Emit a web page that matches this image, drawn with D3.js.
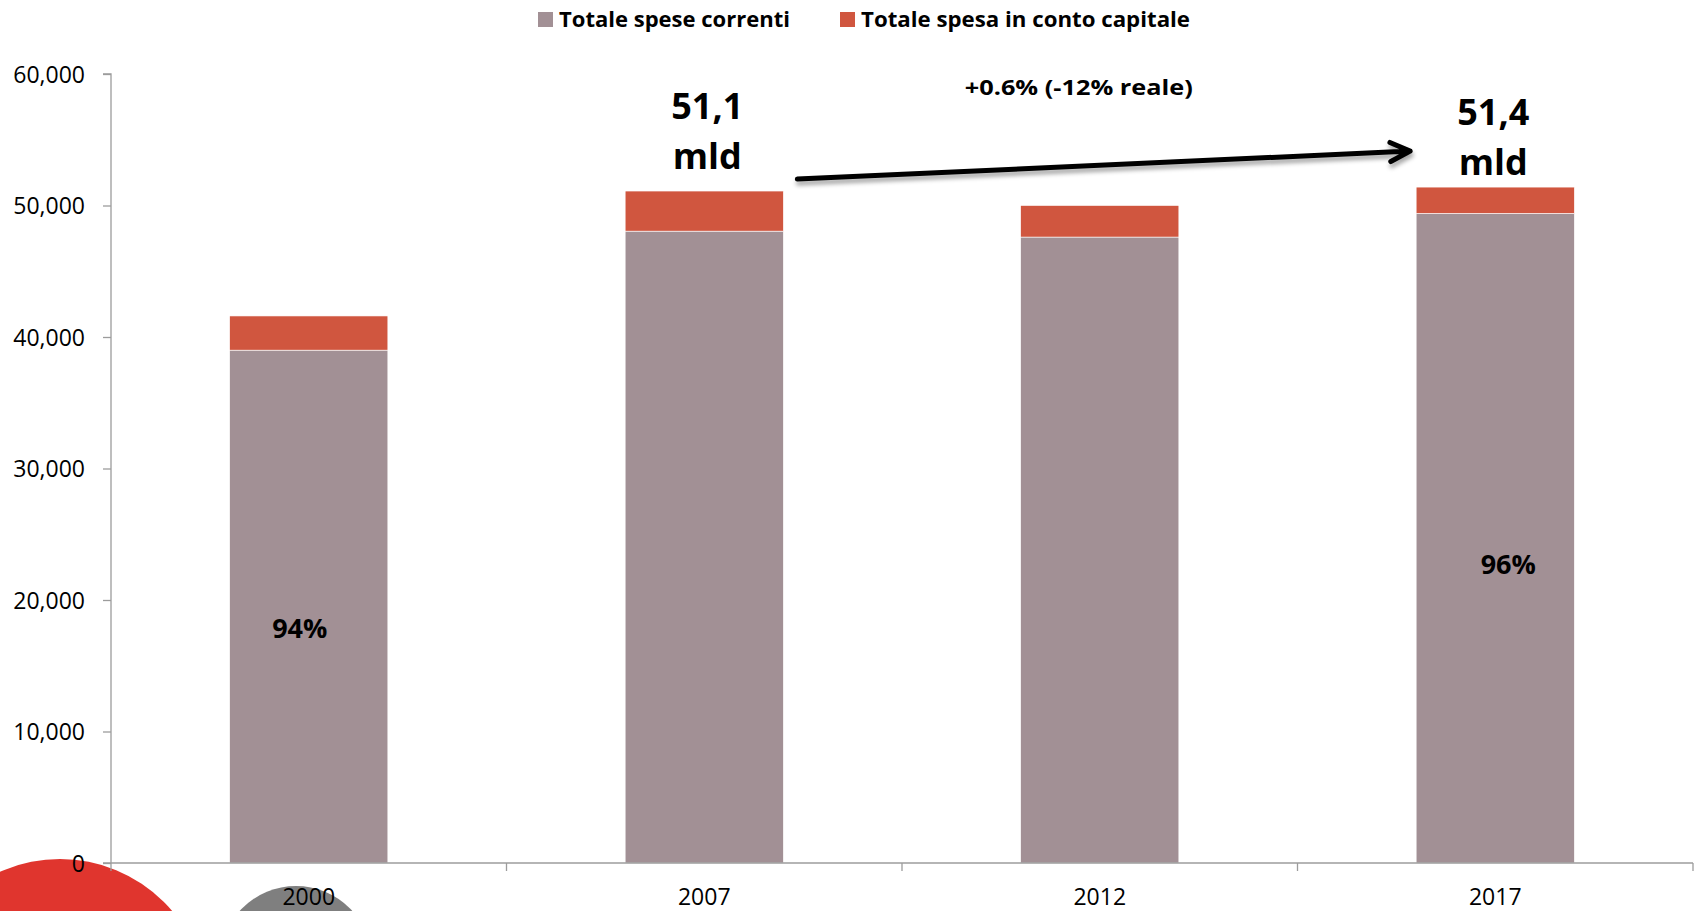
<!DOCTYPE html>
<html>
<head>
<meta charset="utf-8">
<script src="https://cdn.jsdelivr.net/npm/d3@7"></script>
<style>
  html, body { margin: 0; padding: 0; background: #ffffff; }
  svg { display: block; }
  text { font-family: "Open Sans", "Noto Sans", "DejaVu Sans", sans-serif; fill: #000; }
</style>
</head>
<body>
<svg id="chart" width="1698" height="911"></svg>
<script>
// ---- data ----
const categories = ["2000", "2007", "2012", "2017"];
const speseCorrenti = [39000, 48050, 47600, 49400];
const spesaCapitale = [2600, 3050, 2400, 2000];
const seriesNames = ["Totale spese correnti", "Totale spesa in conto capitale"];
const seriesColors = ["#a29095", "#d0563f"];
const yTicks = [0, 10000, 20000, 30000, 40000, 50000, 60000];
const totalLabelCats = ["2007", "2017"];
const totalLabelText = [["51,1", "mld"], ["51,4", "mld"]];
const shareLabelCats = ["2000", "2017"];
const shareLabelText = ["94%", "96%"];
const shareLabelValues = [17100, 22000];
const growthText = "+0.6% (-12% reale)";

(function () {
// ---- layout ----
const svg = d3.select("#chart");
const pL = 111, pR = 1693, pT = 74, pB = 863;

const x = d3.scaleBand().domain(categories).range([pL, pR]).paddingInner(0.6).paddingOuter(0.3);
const y = d3.scaleLinear().domain([0, 60000]).range([pB, pT]);

const defs = svg.append("defs");
const f = defs.append("filter").attr("id", "shadow").attr("x", "-10%").attr("y", "-200%").attr("width", "120%").attr("height", "500%");
f.append("feDropShadow").attr("dx", 1).attr("dy", 4).attr("stdDeviation", 2.2).attr("flood-color", "#000").attr("flood-opacity", 0.35);

// decorative circles (slide background)
svg.append("circle").attr("cx", 60).attr("cy", 1006).attr("r", 147).attr("fill", "#e0352e");
svg.append("circle").attr("cx", 296).attr("cy", 962).attr("r", 76).attr("fill", "#7f7f7f");

// stacked data
const rows = categories.map((c, i) => ({ cat: c, a: speseCorrenti[i], b: spesaCapitale[i] }));
const stack = d3.stack().keys(["a", "b"])(rows);

const g = svg.append("g");
g.selectAll("g.series").data(stack).join("g")
  .attr("fill", (d, i) => seriesColors[i])
  .selectAll("rect").data(d => d).join("rect")
  .attr("x", d => x(d.data.cat))
  .attr("width", x.bandwidth())
  .attr("y", d => y(d[1]))
  .attr("height", d => y(d[0]) - y(d[1]))
  .attr("stroke", "#ffffff").attr("stroke-width", 0.6);

// axes
const axisColor = "#9c9c9c";
const yAxis = d3.axisLeft(y).tickValues(yTicks).tickSize(8).tickPadding(18).tickFormat(d3.format(","));
const ya = svg.append("g").attr("transform", `translate(${pL},0)`).call(yAxis);
ya.select(".domain").attr("stroke", axisColor).attr("stroke-width", 1.3).attr("d", `M-8,${pT}H0V${pB}`);
ya.selectAll(".tick line").attr("stroke", axisColor).attr("stroke-width", 1.3);
ya.selectAll(".tick text").attr("font-size", 23).attr("fill", "#000").attr("dy", "0.35em")
  .style("font-family", "'Open Sans', sans-serif");

// x axis line
const step = x.step();
const boundaries = d3.range(categories.length + 1).map(i => pL + i * step);
svg.append("line").attr("x1", pL - 8).attr("x2", pR).attr("y1", pB).attr("y2", pB)
  .attr("stroke", axisColor).attr("stroke-width", 1.3);
svg.selectAll("line.xt").data(boundaries).join("line").attr("class", "xt")
  .attr("x1", d => d).attr("x2", d => d).attr("y1", pB).attr("y2", pB + 8)
  .attr("stroke", axisColor).attr("stroke-width", 1.3);
svg.selectAll("text.xl").data(categories).join("text").attr("class", "xl")
  .attr("x", d => x(d) + x.bandwidth() / 2).attr("y", pB + 42)
  .attr("text-anchor", "middle").attr("font-size", 23).text(d => d);

// share labels
svg.selectAll("text.share").data(shareLabelCats).join("text").attr("class", "share")
  .attr("x", (d, i) => x(d) + x.bandwidth() / 2 + (i === 0 ? -9 : 13))
  .attr("y", (d, i) => y(shareLabelValues[i]))
  .attr("text-anchor", "middle").attr("font-size", 27).attr("font-weight", 700)
  .text((d, i) => shareLabelText[i]);

// total labels
const total = c => { const i = categories.indexOf(c); return speseCorrenti[i] + spesaCapitale[i]; };
const labelDx = [3, -2], labelDy = [-72, -62];
totalLabelCats.forEach((c, i) => {
  const cx = x(c) + x.bandwidth() / 2 + labelDx[i];
  const ty = y(total(c)) + labelDy[i];
  const t = svg.append("text").attr("text-anchor", "middle").attr("font-size", 36).attr("font-weight", 700);
  t.append("tspan").attr("x", cx).attr("y", ty).text(totalLabelText[i][0]);
  t.append("tspan").attr("x", cx).attr("y", ty + 50).text(totalLabelText[i][1]);
});

// arrow
const x0 = x("2007") + x.bandwidth() + 14, y0 = y(total("2007")) - 12;
const x1 = x("2017") - 6, y1 = y(total("2017")) - 36;
const ang = Math.atan2(y1 - y0, x1 - x0);
const ah = 22, aa = 0.45;
const arrow = svg.append("g").attr("filter", "url(#shadow)");
arrow.append("path")
  .attr("d", `M${x0},${y0}L${x1},${y1}` +
    `M${x1 - ah * Math.cos(ang - aa)},${y1 - ah * Math.sin(ang - aa)}L${x1},${y1}L${x1 - ah * Math.cos(ang + aa)},${y1 - ah * Math.sin(ang + aa)}`)
  .attr("fill", "none").attr("stroke", "#000").attr("stroke-width", 5)
  .attr("stroke-linecap", "round").attr("stroke-linejoin", "round");

// growth text
svg.append("text").attr("x", (x0 + x1) / 2 - 25).attr("y", 95)
  .attr("text-anchor", "middle").attr("font-size", 22).attr("font-weight", 700)
  .attr("textLength", 228).attr("lengthAdjust", "spacingAndGlyphs").text(growthText);

// legend
const legendX = [538, 840];
const legendTextLen = [231, 329];
const leg = svg.selectAll("g.leg").data(seriesNames).join("g").attr("class", "leg")
  .attr("transform", (d, i) => `translate(${legendX[i]},12)`);
leg.append("rect").attr("width", 15).attr("height", 15).attr("fill", (d, i) => seriesColors[i]);
leg.append("text").attr("x", 21).attr("y", 15).attr("font-size", 22).attr("font-weight", 700)
  .attr("textLength", (d, i) => legendTextLen[i]).attr("lengthAdjust", "spacingAndGlyphs")
  .text(d => d);
})();
</script>
</body>
</html>
